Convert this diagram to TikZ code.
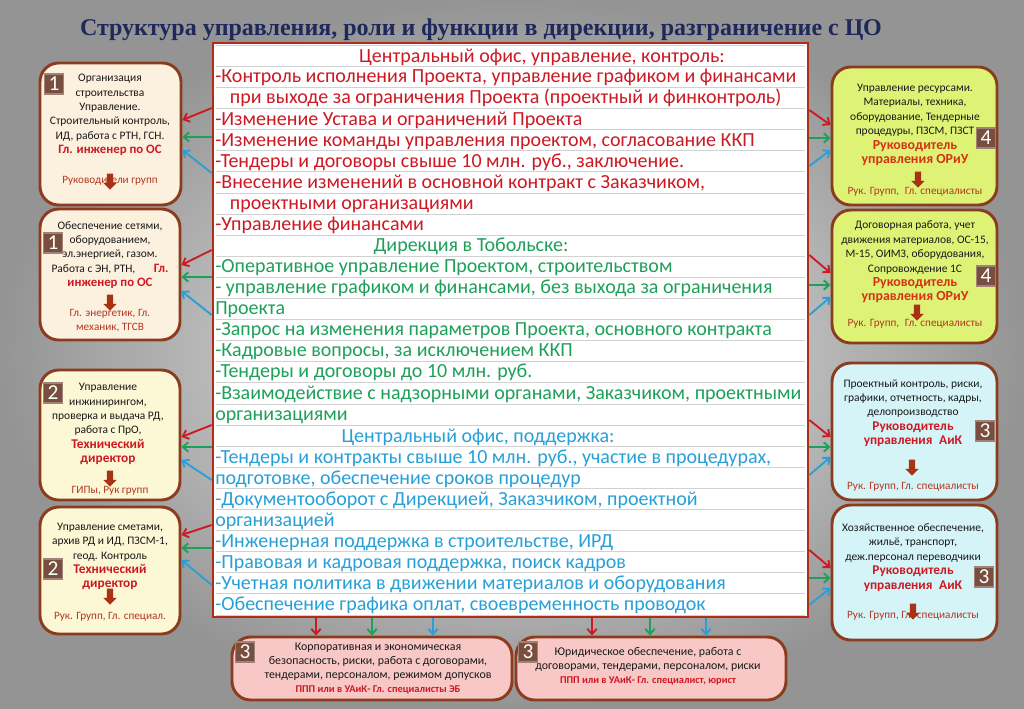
\documentclass[tikz,border=0pt]{standalone}
\usepackage{fontspec}
\setmainfont{Carlito}
\newfontfamily\titlefont{Liberation Serif}
\usepackage{tikz}
\usetikzlibrary{shapes.arrows, arrows.meta}
\definecolor{DirNavy}{RGB}{30,40,90}
\definecolor{DirBrown}{RGB}{140,60,30}
\definecolor{DirFrame}{RGB}{175,45,25}
\definecolor{DirBadge}{RGB}{120,78,62}
\definecolor{DirCreamA}{RGB}{252,241,222}
\definecolor{DirCreamB}{RGB}{252,247,212}
\definecolor{DirLime}{RGB}{222,243,118}
\definecolor{DirCyan}{RGB}{212,244,248}
\definecolor{DirPink}{RGB}{248,200,198}
\definecolor{DirRed}{RGB}{205,25,35}
\definecolor{DirOrange}{RGB}{215,50,20}
\definecolor{DirSub}{RGB}{180,55,35}
\definecolor{DirGreen}{RGB}{30,160,90}
\definecolor{DirBlue}{RGB}{40,160,215}
\definecolor{DirText}{RGB}{25,25,25}
\definecolor{DirArrow}{RGB}{170,50,20}
\newdimen\px \px=0.75pt

\begin{document}
\begin{tikzpicture}[x=0.75pt, y=-0.75pt,
          box/.style={draw=DirBrown, line width=2.2pt, rounded corners=14pt},
          cbox/.style={draw=DirFrame, line width=2pt, fill=white},
          btxt/.style={font=\fontsize{8.6}{10.8}\selectfont, align=center,
                       inner sep=0pt, text=DirText},
          ctxt/.style={font=\fontsize{15}{15.8}\selectfont, inner sep=0pt},
          sub/.style={font=\fontsize{8.4}{10.6}\selectfont, align=center,
                      inner sep=0pt, text=DirSub},
          badge/.style={fill=DirBadge, draw=DirBadge!70!white, line width=0.8pt,
                        text=white, font=\fontsize{16}{16}\selectfont,
                        minimum width=14.5pt, minimum height=15pt, inner sep=0pt},
          darr/.style={single arrow, rotate=-90, fill=DirArrow, inner xsep=0pt,
                       inner ysep=2.2pt, single arrow head extend=2.6pt,
                       minimum height=12pt},
          rarr/.style={-{Straight Barb[length=4pt, width=7pt]}, line width=1.4pt, DirRed},
          garr/.style={-{Straight Barb[length=4pt, width=7pt]}, line width=1.4pt, DirGreen},
          barr/.style={-{Straight Barb[length=4pt, width=7pt]}, line width=1.4pt, DirBlue}
        ]
        \useasboundingbox (0,0) rectangle (1024,708);
        \shade[inner color=black!7, outer color=black!42] (0,0) rectangle (1024,708);

        \node[font=\titlefont\fontsize{18}{20}\selectfont\bfseries, DirNavy] (title) at (481,30)
              {Структура управления, роли и функции в дирекции, разграничение с ЦО};

        % central block
        \node[cbox, minimum width=595\px, minimum height=574\px] (co) at (510.5,330) {};
        \foreach \k in {0,...,27}
          \draw[black!18, line width=0.5pt] (216,45.2+21.1*\k) -- (805,45.2+21.1*\k);

        \node[ctxt, DirRed] (h1) at (542,57) {Центральный офис, управление, контроль:};
        \node[ctxt, DirRed, anchor=west, align=left] (t1) at (215,151.5)
              {-Контроль исполнения Проекта, управление графиком и финансами\\
               \hspace*{11pt}при выходе за ограничения Проекта (проектный и финконтроль)\\
               -Изменение Устава и ограничений Проекта\\
               -Изменение команды управления проектом, согласование ККП\\
               -Тендеры и договоры свыше 10 млн. руб., заключение.\\
               -Внесение изменений в основной контракт с Заказчиком,\\
               \hspace*{11pt}проектными организациями\\
               -Управление финансами};
        \node[ctxt, DirGreen] (h2) at (471,246) {Дирекция в Тобольске:};
        \node[ctxt, DirGreen, anchor=west, align=left] (t2) at (215,341.5)
              {-Оперативное управление Проектом, строительством\\
               - управление графиком и финансами, без выхода за ограничения\\
               Проекта\\
               -Запрос на изменения параметров Проекта, основного контракта\\
               -Кадровые вопросы, за исключением ККП\\
               -Тендеры и договоры до 10 млн. руб.\\
               -Взаимодействие с надзорными органами, Заказчиком, проектными\\
               организациями};
        \node[ctxt, DirBlue] (h3) at (478,437) {Центральный офис, поддержка:};
        \node[ctxt, DirBlue, anchor=west, align=left] (t3) at (215,532)
              {-Тендеры и контракты свыше 10 млн. руб., участие в процедурах,\\
               подготовке, обеспечение сроков процедур\\
               -Документооборот с Дирекцией, Заказчиком, проектной\\
               организацией\\
               -Инженерная поддержка в строительстве, ИРД\\
               -Правовая и кадровая поддержка, поиск кадров\\
               -Учетная политика в движении материалов и оборудования\\
               -Обеспечение графика оплат, своевременность проводок};

        % left column
        \node[box, fill=DirCreamA, minimum width=141\px, minimum height=142\px] (l1) at (110.5,134) {};
        \node[box, fill=DirCreamA, minimum width=140\px, minimum height=131\px] (l2) at (110,274.5) {};
        \node[box, fill=DirCreamB, minimum width=140\px, minimum height=130\px] (l3) at (110,435) {};
        \node[box, fill=DirCreamB, minimum width=140\px, minimum height=127\px] (l4) at (110,570.5) {};

        \node[btxt] (l1t) at (110,115)
              {Организация\\строительства\\Управление.\\Строительный контроль,\\ИД, работа с РТН, ГСН.\\
               {\fontsize{9.6}{10.8}\selectfont\bfseries\color{DirRed}Гл. инженер по ОС}};
        \node[sub] (l1s) at (110,181) {Руководители групп};
        \node[darr] (l1a) at (110,180) {};

        \node[btxt] (l2t) at (110,255)
              {Обеспечение сетями,\\оборудованием,\\эл.энергией, газом.\\
               Работа с ЭН, РТН,\hspace{14pt}{\fontsize{9.6}{10.8}\selectfont\bfseries\color{DirRed}Гл.}\\
               {\fontsize{9.6}{10.8}\selectfont\bfseries\color{DirRed}инженер по ОС}};
        \node[darr] (l2a) at (110,301) {};
        \node[sub] (l2s) at (110,321) {Гл. энергетик, Гл.\\механик, ТГСВ};

        \node[btxt] (l3t) at (108,424)
              {Управление\\инжинирингом,\\проверка и выдача РД,\\работа с ПрО,\\
               {\fontsize{10}{10.8}\selectfont\bfseries\color{DirRed}Технический}\\
               {\fontsize{10}{10.8}\selectfont\bfseries\color{DirRed}директор}};
        \node[darr] (l3a) at (110,477) {};
        \node[sub] (l3s) at (110,491) {ГИПы, Рук групп};

        \node[btxt] (l4t) at (110,556.5)
              {Управление сметами,\\архив РД и ИД, ПЗСМ-1,\\геод. Контроль\\
               {\fontsize{10}{10.8}\selectfont\bfseries\color{DirRed}Технический}\\
               {\fontsize{10}{10.8}\selectfont\bfseries\color{DirRed}директор}};
        \node[darr] (l4a) at (110,595) {};
        \node[sub] (l4s) at (110,617) {Рук. Групп, Гл. специал.};

        \node[badge] (l1n) at (54,84) {1};
        \node[badge] (l2n) at (53,243) {1};
        \node[badge] (l3n) at (53,393) {2};
        \node[badge] (l4n) at (53,569) {2};

        % right column
        \node[box, fill=DirLime, minimum width=165\px, minimum height=138\px] (r1) at (914.5,136) {};
        \node[box, fill=DirLime, minimum width=165\px, minimum height=133\px] (r2) at (914.5,276.5) {};
        \node[box, fill=DirCyan, minimum width=165\px, minimum height=137\px] (r3) at (914.5,431.5) {};
        \node[box, fill=DirCyan, minimum width=165\px, minimum height=135\px] (r4) at (914.5,572.5) {};

        \node[btxt] (r1t) at (915,125)
              {Управление ресурсами.\\Материалы, техника,\\оборудование, Тендерные\\процедуры, ПЗСМ, ПЗСТ\\
               {\fontsize{10.4}{10.8}\selectfont\bfseries\color{DirOrange}Руководитель}\\
               {\fontsize{10.4}{10.8}\selectfont\bfseries\color{DirOrange}управления ОРиУ}};
        \node[darr] (r1a) at (918,178) {};
        \node[sub] (r1s) at (915,192) {Рук. Групп,\enspace Гл. специалисты};

        \node[btxt] (r2t) at (915,262)
              {Договорная работа, учет\\движения материалов, ОС-15,\\М-15, ОИМЗ, оборудования,\\Сопровождение 1С\\
               {\fontsize{10.4}{10.8}\selectfont\bfseries\color{DirOrange}Руководитель}\\
               {\fontsize{10.4}{10.8}\selectfont\bfseries\color{DirOrange}управления ОРиУ}};
        \node[darr] (r2a) at (917,311) {};
        \node[sub] (r2s) at (915,324) {Рук. Групп,\enspace Гл. специалисты};

        \node[btxt] (r3t) at (913,413)
              {Проектный контроль, риски,\\графики, отчетность, кадры,\\делопроизводство\\
               {\fontsize{10}{10.8}\selectfont\bfseries\color{DirRed}Руководитель}\\
               {\fontsize{10}{10.8}\selectfont\bfseries\color{DirRed}управления\enspace АиК}};
        \node[darr] (r3a) at (912,466) {};
        \node[sub] (r3s) at (913,487) {Рук. Групп, Гл. специалисты};

        \node[btxt] (r4t) at (913,557.5)
              {Хозяйственное обеспечение,\\жильё, транспорт,\\деж.персонал переводчики\\
               {\fontsize{10}{10.8}\selectfont\bfseries\color{DirRed}Руководитель}\\
               {\fontsize{10}{10.8}\selectfont\bfseries\color{DirRed}управления\enspace АиК}};
        \node[sub] (r4s) at (913,616) {Рук. Групп, Гл. специалисты};
        \node[darr] (r4a) at (913,610) {};

        \node[badge] (r1n) at (986,138) {4};
        \node[badge] (r2n) at (986,276) {4};
        \node[badge] (r3n) at (985,431) {3};
        \node[badge] (r4n) at (984,577) {3};

        % bottom row
        \node[box, fill=DirPink, minimum width=280\px, minimum height=63\px] (b1) at (372,668.5) {};
        \node[box, fill=DirPink, minimum width=270\px, minimum height=63\px] (b2) at (651,668.5) {};
        \node[btxt, font=\fontsize{8.9}{10.5}\selectfont] (b1t) at (378,669)
              {Корпоративная и экономическая\\безопасность, риски, работа с договорами,\\
               тендерами, персоналом, режимом допусков\\
               {\fontsize{7.8}{10.5}\selectfont\bfseries\color{DirRed}ППП или в УАиК- Гл. специалисты ЭБ}};
        \node[btxt, font=\fontsize{8.9}{10.5}\selectfont] (b2t) at (648,666)
              {Юридическое обеспечение, работа с\\договорами, тендерами, персоналом, риски\\
               {\fontsize{7.8}{10.5}\selectfont\bfseries\color{DirRed}ППП или в УАиК- Гл. специалист, юрист}};
        \node[badge] (b1n) at (245,652) {3};
        \node[badge] (b2n) at (528,652) {3};

        % links from the central block
        \foreach \bx/\ra/\rb/\ga/\ba/\bb in {l1/108/120/137/173/150, l2/250/265/277/315/291,
                                           l3/425/437/447/480/460, l4/525/535/548/585/560}{
          \draw[rarr] (co.west |- 0,\ra) -- (\bx.east |- 0,\rb);
          \draw[garr] (co.west |- 0,\ga) -- (\bx.east |- 0,\ga);
          \draw[barr] (co.west |- 0,\ba) -- (\bx.east |- 0,\bb);
        }
        \foreach \bx/\ra/\rb/\ga/\ba/\bb in {r1/110/125/138/166/150, r2/255/273/285/315/297,
                                           r3/420/437/447/475/457, r4/550/568/578/605/588}{
          \draw[rarr] (co.east |- 0,\ra) -- (\bx.west |- 0,\rb);
          \draw[garr] (co.east |- 0,\ga) -- (\bx.west |- 0,\ga);
          \draw[barr] (co.east |- 0,\ba) -- (\bx.west |- 0,\bb);
        }
        \foreach \bx/\xr/\xg/\xb in {b1/316/372/433, b2/592/650/706}{
          \draw[rarr] (co.south -| \xr,0) -- (\bx.north -| \xr,0);
          \draw[garr] (co.south -| \xg,0) -- (\bx.north -| \xg,0);
          \draw[barr] (co.south -| \xb,0) -- (\bx.north -| \xb,0);
        }
      \end{tikzpicture}
\end{document}
